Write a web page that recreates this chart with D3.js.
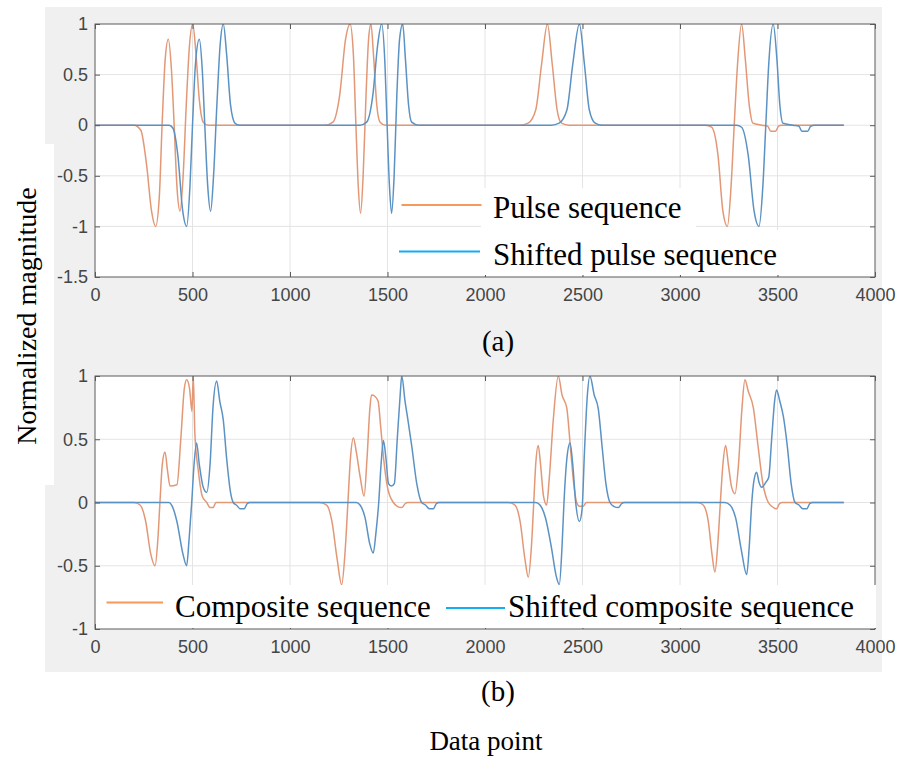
<!DOCTYPE html>
<html>
<head>
<meta charset="utf-8">
<script src="https://cdn.jsdelivr.net/npm/d3@7"></script>
<style>
  html, body { margin: 0; padding: 0; background: #ffffff; }
  svg { display: block; }
</style>
</head>
<body>
<svg id="chart" width="905" height="758"></svg>
<script>
// ---------------- DATA ----------------
const xTicks = [0, 500, 1000, 1500, 2000, 2500, 3000, 3500, 4000];
const yTicksA = [-1.5, -1, -0.5, 0, 0.5, 1];
const yTicksB = [-1, -0.5, 0, 0.5, 1];

const seriesNamesA = ["Pulse sequence", "Shifted pulse sequence"];
const seriesNamesB = ["Composite sequence", "Shifted composite sequence"];
const panelLabels = ["(a)", "(b)"];
const xLabel = "Data point";
const yLabel = "Normalized magnitude";

// (a) Pulse sequence
const pulseX = [0, 200, 235, 265, 290, 311, 330, 344, 360, 376, 392, 406, 420, 436, 452, 468, 485, 501, 518, 535, 555, 580,
  1180, 1220, 1255, 1285, 1308, 1325, 1338, 1350, 1362, 1375, 1390, 1403, 1415, 1428, 1445, 1462, 1490,
  2180, 2221, 2260, 2290, 2320, 2345, 2370, 2393, 2430,
  3130, 3162, 3195, 3220, 3243, 3262, 3278, 3295, 3316, 3335, 3355, 3374, 3420, 3450, 3465, 3490, 3505, 3520, 3840];
const pulseY = [0, 0, -0.05, -0.4, -0.85, -1, -0.7, 0, 0.65, 0.85, 0.55, 0, -0.6, -0.85, -0.5, 0.2, 0.8, 1, 0.7, 0.25, 0.03, 0,
  0, 0.03, 0.3, 0.85, 1, 0.7, 0, -0.6, -0.87, -0.5, 0.3, 0.85, 1, 0.7, 0.2, 0.03, 0,
  0, 0.02, 0.15, 0.6, 1, 0.6, 0.15, 0.02, 0,
  0, -0.02, -0.3, -0.85, -1, -0.6, 0, 0.6, 1, 0.65, 0.2, 0.02, 0, -0.01, -0.06, -0.06, -0.01, 0, 0];

// (a) Shifted pulse sequence
const shiftedPulseX = [0, 380, 400, 425, 450, 470, 487, 500, 515, 535, 550, 563, 578, 593, 608, 625, 642, 658, 675, 695, 718, 740,
  1360, 1393, 1425, 1450, 1470, 1487, 1498, 1510, 1521, 1534, 1548, 1562, 1578, 1592, 1608, 1624, 1660,
  2340, 2380, 2420, 2450, 2484, 2510, 2535, 2565, 2600,
  3290, 3316, 3350, 3380, 3405, 3425, 3440, 3455, 3478, 3497, 3512, 3528, 3580, 3610, 3625, 3655, 3670, 3690, 3840];
const shiftedPulseY = [0, 0, -0.03, -0.3, -0.85, -1, -0.6, 0, 0.6, 0.85, 0.55, 0, -0.6, -0.85, -0.5, 0.2, 0.8, 1, 0.7, 0.2, 0.02, 0,
  0, 0.03, 0.3, 0.8, 1, 0.6, 0, -0.6, -0.87, -0.5, 0.3, 0.85, 1, 0.65, 0.2, 0.03, 0,
  0, 0.02, 0.15, 0.6, 1, 0.6, 0.15, 0.02, 0,
  0, -0.02, -0.3, -0.85, -1, -0.6, 0, 0.6, 1, 0.65, 0.2, 0.02, 0, -0.01, -0.06, -0.06, -0.01, 0, 0];

// (b) Composite sequence
const compositeX = [0, 200, 231, 260, 285, 308, 322, 333, 345, 359, 372, 385, 420, 440, 458, 470, 485, 497, 504, 512, 530, 550, 573, 590, 606, 620,
  1150, 1188, 1215, 1242, 1265, 1282, 1297, 1310, 1325, 1340, 1360, 1380, 1395, 1410, 1418, 1435, 1452, 1465, 1480, 1500, 1530, 1550, 1573, 1590, 1605,
  2120, 2154, 2180, 2205, 2222, 2238, 2250, 2260, 2273, 2285, 2300, 2316, 2330, 2350, 2376, 2395, 2419, 2440, 2455, 2470, 2485, 2503, 2520,
  3090, 3119, 3145, 3165, 3179, 3195, 3207, 3220, 3234, 3248, 3265, 3282, 3300, 3318, 3333, 3350, 3376, 3400, 3425, 3453, 3470, 3495, 3510, 3525, 3840];
const compositeY = [0, 0, -0.02, -0.15, -0.4, -0.5, -0.3, 0, 0.3, 0.4, 0.25, 0.13, 0.14, 0.5, 0.9, 0.97, 0.9, 0.72, 1, 0.55, 0.25, 0.05, 0, -0.04, -0.04, 0,
  0, -0.02, -0.15, -0.45, -0.65, -0.4, 0, 0.35, 0.51, 0.4, 0.2, 0.05, 0.35, 0.75, 0.85, 0.84, 0.8, 0.6, 0.35, 0.12, 0, -0.03, -0.04, -0.01, 0,
  0, -0.02, -0.15, -0.45, -0.59, -0.35, 0, 0.3, 0.45, 0.3, 0.05, -0.02, 0.2, 0.65, 1, 0.85, 0.75, 0.4, 0.15, 0, -0.03, -0.03, 0,
  0, -0.02, -0.15, -0.42, -0.55, -0.3, 0, 0.3, 0.45, 0.3, 0.12, 0.07, 0.3, 0.75, 0.97, 0.88, 0.75, 0.45, 0.15, 0, -0.03, -0.05, -0.01, 0, 0];

// (b) Shifted composite sequence
const shiftedCompositeX = [0, 380, 393, 420, 450, 470, 482, 496, 508, 521, 535, 555, 573, 590, 605, 624, 640, 658, 675, 695, 709, 725, 745, 765, 780, 795,
  1340, 1359, 1385, 1408, 1427, 1440, 1455, 1467, 1479, 1492, 1505, 1520, 1535, 1550, 1565, 1573, 1590, 1605, 1624, 1650, 1675, 1695, 1715, 1735, 1750, 1765,
  2260, 2282, 2310, 2340, 2365, 2381, 2395, 2405, 2420, 2436, 2450, 2465, 2484, 2498, 2510, 2525, 2538, 2560, 2581, 2600, 2620, 2641, 2660, 2684, 2700, 2715,
  3230, 3256, 3285, 3315, 3342, 3355, 3368, 3380, 3393, 3405, 3419, 3440, 3455, 3470, 3485, 3495, 3512, 3530, 3550, 3570, 3590, 3610, 3630, 3650, 3665, 3680, 3840];
const shiftedCompositeY = [0, 0, -0.02, -0.15, -0.4, -0.5, -0.3, 0, 0.3, 0.47, 0.3, 0.12, 0.08, 0.3, 0.75, 0.96, 0.8, 0.65, 0.35, 0.08, 0, -0.02, -0.05, -0.05, -0.01, 0,
  0, -0.02, -0.12, -0.32, -0.4, -0.25, 0, 0.3, 0.49, 0.35, 0.15, 0.13, 0.15, 0.5, 0.85, 1, 0.8, 0.65, 0.45, 0.15, 0, -0.02, -0.05, -0.05, -0.01, 0,
  0, -0.02, -0.12, -0.35, -0.58, -0.65, -0.35, 0, 0.35, 0.47, 0.3, 0, -0.15, -0.05, 0.4, 0.85, 1, 0.85, 0.74, 0.45, 0.15, 0, -0.03, -0.04, -0.01, 0,
  0, -0.02, -0.12, -0.38, -0.57, -0.35, 0, 0.18, 0.24, 0.16, 0.12, 0.16, 0.2, 0.5, 0.8, 0.89, 0.8, 0.68, 0.45, 0.15, 0, -0.02, -0.05, -0.05, -0.01, 0, 0];

// ---------------- DRAWING ----------------
const svg = d3.select("#chart");
const serif = "'Liberation Serif', 'Times New Roman', serif";
const sans = "'Liberation Sans', Arial, Helvetica, sans-serif";
const curveOrange = "#e29876";
const curveBlue = "#5b92c4";
const legendOrange = "#f59a5a";
const legendBlue = "#13aef0";

// figure backgrounds
svg.append("rect").attr("x", 45).attr("y", 7).attr("width", 837).attr("height", 665).attr("fill", "#f0f0f0");
svg.append("rect").attr("x", 0).attr("y", 144).attr("width", 54).attr("height", 341).attr("fill", "#ffffff");

const plotLeft = 95, plotRight = 875;
const x = d3.scaleLinear().domain([0, 4000]).range([plotLeft, plotRight]);

function panel(id, top, bottom, yDomain, yTicks, series) {
  const y = d3.scaleLinear().domain(yDomain).range([bottom, top]);
  const g = svg.append("g");
  g.append("rect").attr("x", plotLeft).attr("y", top).attr("width", plotRight - plotLeft).attr("height", bottom - top).attr("fill", "#ffffff");
  // grid
  g.append("g").selectAll("line").data(xTicks.slice(1, -1)).join("line")
    .attr("x1", d => x(d)).attr("x2", d => x(d)).attr("y1", top).attr("y2", bottom)
    .attr("stroke", "#e4e4e4").attr("stroke-width", 1);
  g.append("g").selectAll("line").data(yTicks.slice(1, -1)).join("line")
    .attr("x1", plotLeft).attr("x2", plotRight).attr("y1", d => y(d)).attr("y2", d => y(d))
    .attr("stroke", "#e4e4e4").attr("stroke-width", 1);
  // clip
  svg.append("clipPath").attr("id", id).append("rect")
    .attr("x", plotLeft).attr("y", top).attr("width", plotRight - plotLeft).attr("height", bottom - top);
  const line = d3.line().x(d => x(d[0])).y(d => y(d[1])).curve(d3.curveMonotoneX);
  const cg = g.append("g").attr("clip-path", `url(#${id})`);
  series.forEach(s => {
    const pts = s.xs.map((v, i) => [v, s.ys[i]]);
    cg.append("path").datum(pts).attr("d", line).attr("fill", "none")
      .attr("stroke", s.color).attr("stroke-width", 1.5).attr("stroke-linejoin", "round");
  });
  // axes
  const axisColor = "#5a5a5a";
  const styleAxis = sel => {
    sel.select(".domain").remove();
    sel.selectAll(".tick line").attr("stroke", axisColor);
    sel.selectAll(".tick text").attr("fill", "#454545").attr("font-family", sans).attr("font-size", 18);
  };
  g.append("g").attr("transform", `translate(0,${bottom})`)
    .call(d3.axisBottom(x).tickValues(xTicks).tickSize(-5).tickPadding(11).tickFormat(d => String(d)))
    .call(styleAxis);
  g.append("g").attr("transform", `translate(0,${top})`)
    .call(d3.axisTop(x).tickValues(xTicks).tickSize(-5).tickFormat(""))
    .call(styleAxis);
  g.append("g").attr("transform", `translate(${plotLeft},0)`)
    .call(d3.axisLeft(y).tickValues(yTicks).tickSize(-5).tickPadding(7).tickFormat(d => String(d)))
    .call(styleAxis);
  g.append("g").attr("transform", `translate(${plotRight},0)`)
    .call(d3.axisRight(y).tickValues(yTicks).tickSize(-5).tickFormat(""))
    .call(styleAxis);
  g.append("rect").attr("x", plotLeft).attr("y", top).attr("width", plotRight - plotLeft).attr("height", bottom - top)
    .attr("fill", "none").attr("stroke", axisColor).attr("stroke-width", 1);
  return y;
}

panel("clipA", 24, 277, [-1.5, 1], yTicksA, [
  { xs: pulseX, ys: pulseY, color: curveOrange },
  { xs: shiftedPulseX, ys: shiftedPulseY, color: curveBlue }
]);
panel("clipB", 376, 629, [-1, 1], yTicksB, [
  { xs: compositeX, ys: compositeY, color: curveOrange },
  { xs: shiftedCompositeX, ys: shiftedCompositeY, color: curveBlue }
]);

// legend (a)
svg.append("rect").attr("x", 481).attr("y", 188).attr("width", 215).attr("height", 42).attr("fill", "#ffffff");
svg.append("rect").attr("x", 480).attr("y", 230).attr("width", 306).attr("height", 45).attr("fill", "#ffffff");
svg.append("line").attr("x1", 401.5).attr("x2", 481.5).attr("y1", 205).attr("y2", 205).attr("stroke", legendOrange).attr("stroke-width", 2);
svg.append("line").attr("x1", 399).attr("x2", 480).attr("y1", 251.5).attr("y2", 251.5).attr("stroke", legendBlue).attr("stroke-width", 2);
svg.append("text").attr("x", 493).attr("y", 218).text(seriesNamesA[0])
  .attr("font-family", serif).attr("font-size", 31).attr("fill", "#000");
svg.append("text").attr("x", 493).attr("y", 265).text(seriesNamesA[1])
  .attr("font-family", serif).attr("font-size", 31).attr("fill", "#000");

// legend (b)
svg.append("rect").attr("x", 100).attr("y", 585).attr("width", 776).attr("height", 43).attr("fill", "#ffffff");
svg.append("line").attr("x1", 106.5).attr("x2", 163).attr("y1", 602.5).attr("y2", 602.5).attr("stroke", legendOrange).attr("stroke-width", 2);
svg.append("line").attr("x1", 446).attr("x2", 505).attr("y1", 608).attr("y2", 608).attr("stroke", legendBlue).attr("stroke-width", 2);
svg.append("text").attr("x", 175).attr("y", 617).text(seriesNamesB[0])
  .attr("font-family", serif).attr("font-size", 31).attr("fill", "#000");
svg.append("text").attr("x", 508).attr("y", 617).text(seriesNamesB[1])
  .attr("font-family", serif).attr("font-size", 31).attr("fill", "#000");

// panel labels & axis titles
svg.append("text").attr("x", 498).attr("y", 351).attr("text-anchor", "middle").text(panelLabels[0])
  .attr("font-family", serif).attr("font-size", 29).attr("fill", "#000");
svg.append("text").attr("x", 498).attr("y", 701).attr("text-anchor", "middle").text(panelLabels[1])
  .attr("font-family", serif).attr("font-size", 29).attr("fill", "#000");
svg.append("text").attr("x", 486).attr("y", 750).attr("text-anchor", "middle").text(xLabel)
  .attr("font-family", serif).attr("font-size", 27).attr("fill", "#000");
svg.append("text").attr("transform", "translate(36,316) rotate(-90)").attr("text-anchor", "middle").text(yLabel)
  .attr("font-family", serif).attr("font-size", 28).attr("fill", "#000");
</script>
</body>
</html>
